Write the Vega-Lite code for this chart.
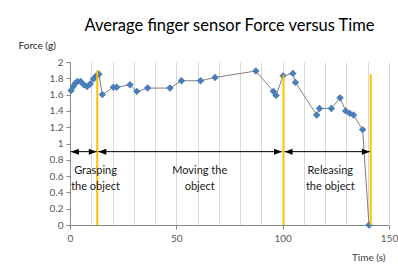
{
  "$schema": "https://vega.github.io/schema/vega-lite/v6.json",
  "autosize": "none",
  "width": 319,
  "height": 163,
  "padding": {"left": 70, "top": 62, "right": 9, "bottom": 41},
  "background": "white",
  "config": {
    "view": {"stroke": null},
    "font": "Lato",
    "axis": {"labelFont": "Lato", "labelFontSize": 10, "labelColor": "#595959", "titleFont": "Lato", "titleFontWeight": "normal", "titleFontSize": 10, "titleColor": "#404040", "domainColor": "#868686", "tickColor": "#868686", "tickSize": 4}
  },
  "title": {"text": "Average finger sensor Force versus Time", "font": "Lato", "fontSize": 16.5, "fontWeight": "normal", "color": "#000000", "anchor": "middle", "offset": 6},
  "datasets": {
    "pts": [
      {"t": 0.5, "f": 1.65}, {"t": 1.5, "f": 1.7}, {"t": 2.5, "f": 1.74}, {"t": 3.5, "f": 1.76},
      {"t": 5, "f": 1.76}, {"t": 6.5, "f": 1.72}, {"t": 8, "f": 1.7}, {"t": 9.5, "f": 1.73},
      {"t": 11, "f": 1.79}, {"t": 12.3, "f": 1.83}, {"t": 13.6, "f": 1.85}, {"t": 15.2, "f": 1.6},
      {"t": 20.4, "f": 1.69}, {"t": 22, "f": 1.69}, {"t": 28.2, "f": 1.72}, {"t": 31.4, "f": 1.64},
      {"t": 36.5, "f": 1.68}, {"t": 47, "f": 1.68}, {"t": 52.4, "f": 1.77}, {"t": 61.4, "f": 1.77},
      {"t": 68.2, "f": 1.81}, {"t": 87.4, "f": 1.89}, {"t": 95.6, "f": 1.64}, {"t": 96.9, "f": 1.59},
      {"t": 100.2, "f": 1.83}, {"t": 104.8, "f": 1.86}, {"t": 106, "f": 1.75}, {"t": 116, "f": 1.35},
      {"t": 117.3, "f": 1.43}, {"t": 122.9, "f": 1.43}, {"t": 127, "f": 1.56}, {"t": 129.6, "f": 1.4},
      {"t": 131.5, "f": 1.37}, {"t": 133.3, "f": 1.35}, {"t": 137.6, "f": 1.17}, {"t": 140.6, "f": 0}
    ],
    "phases": [
      {"t": 12.8, "bottom": 0, "top": 1.9}, {"t": 100.4, "bottom": 0, "top": 1.84}, {"t": 141.4, "bottom": 0, "top": 1.85}
    ],
    "arrows": [
      {"a": 0.4, "b": 12.6, "y": 0.9, "mid": 12, "ty": 0.66, "label": "Grasping\nthe object"},
      {"a": 13.3, "b": 99.7, "y": 0.9, "mid": 61, "ty": 0.66, "label": "Moving the\nobject"},
      {"a": 100.9, "b": 141, "y": 0.9, "mid": 122.4, "ty": 0.66, "label": "Releasing\nthe object"}
    ]
  },
  "layer": [
    {
      "data": {"name": "pts"},
      "mark": {"type": "line", "color": "#7f7f7f", "strokeWidth": 1},
      "encoding": {
        "x": {"field": "t", "type": "quantitative", "scale": {"domain": [0, 150], "nice": false},
          "axis": {"tickCount": 15, "grid": true, "gridColor": "#d9d9d9", "gridWidth": 1,
            "labelOverlap": false, "labelFlush": false, "labelBound": false,
            "labelExpr": "datum.value % 50 == 0 ? datum.label : ''",
            "tickOpacity": {"condition": {"test": "datum.value % 50 == 0", "value": 1}, "value": 0},
            "labelPadding": 4, "title": "Time (s)", "titleX": 315, "titleY": 32, "titleAlign": "right", "titleBaseline": "middle"}},
        "y": {"field": "f", "type": "quantitative", "scale": {"domain": [0, 2], "nice": false},
          "axis": {"tickCount": 10, "format": ".1~f", "grid": false, "labelPadding": 3, "labelOverlap": false,
            "title": "Force (g)", "titleAngle": 0, "titleX": -52, "titleY": -17, "titleAlign": "left", "titleBaseline": "middle", "titleColor": "#262626"}}
      }
    },
    {
      "data": {"name": "pts"},
      "mark": {"type": "point", "shape": "diamond", "filled": true, "color": "#4a7ebb", "opacity": 1, "size": 55},
      "encoding": {
        "x": {"field": "t", "type": "quantitative"},
        "y": {"field": "f", "type": "quantitative"}
      }
    },
    {
      "data": {"name": "phases"},
      "mark": {"type": "rule", "color": "#ffc000", "strokeWidth": 2},
      "encoding": {
        "x": {"field": "t", "type": "quantitative"},
        "y": {"field": "bottom", "type": "quantitative"},
        "y2": {"field": "top"}
      }
    },
    {
      "data": {"name": "arrows"},
      "mark": {"type": "rule", "color": "#000000", "strokeWidth": 1},
      "encoding": {
        "x": {"field": "a", "type": "quantitative"},
        "x2": {"field": "b"},
        "y": {"field": "y", "type": "quantitative"}
      }
    },
    {
      "data": {"name": "arrows"},
      "mark": {"type": "point", "shape": "M0,0L2,-0.75L2,0.75Z", "filled": true, "color": "#000000", "opacity": 1, "size": 64},
      "encoding": {
        "x": {"field": "a", "type": "quantitative"},
        "y": {"field": "y", "type": "quantitative"}
      }
    },
    {
      "data": {"name": "arrows"},
      "mark": {"type": "point", "shape": "M0,0L-2,-0.75L-2,0.75Z", "filled": true, "color": "#000000", "opacity": 1, "size": 64},
      "encoding": {
        "x": {"field": "b", "type": "quantitative"},
        "y": {"field": "y", "type": "quantitative"}
      }
    },
    {
      "data": {"name": "arrows"},
      "mark": {"type": "text", "font": "Lato", "fontSize": 11, "color": "#1a1a1a", "lineBreak": "\n", "lineHeight": 16, "baseline": "middle", "align": "center"},
      "encoding": {
        "x": {"field": "mid", "type": "quantitative"},
        "y": {"field": "ty", "type": "quantitative"},
        "text": {"field": "label"}
      }
    }
  ]
}
